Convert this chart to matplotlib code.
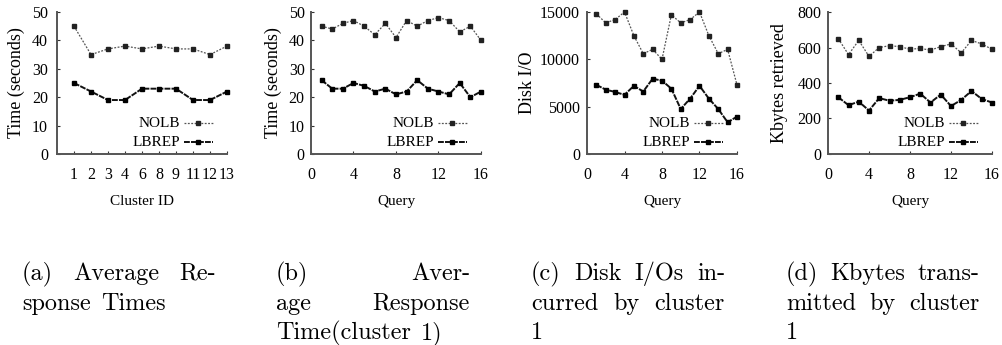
import matplotlib
matplotlib.use('Agg')
import matplotlib.pyplot as plt

# ---------------- data ----------------
series_names = ['NOLB', 'LBREP']

clusters_a = ['1', '2', '3', '4', '6', '8', '9', '11', '12', '13']
nolb_a = [45, 35, 37, 38, 37, 38, 37, 37, 35, 38]
lbrep_a = [25, 22, 19, 19, 23, 23, 23, 19, 19, 22]

queries = list(range(1, 17))
nolb_b = [45, 44, 46, 47, 45, 42, 46, 41, 47, 45, 47, 48, 47, 43, 45, 40]
lbrep_b = [26, 23, 23, 25, 24, 22, 23, 21, 22, 26, 23, 22, 21, 25, 20, 22]

nolb_c = [14800, 13850, 14200, 15000, 12500, 10600, 11050, 10000,
          14700, 13850, 14200, 15000, 12500, 10600, 11050, 7300]
lbrep_c = [7300, 6800, 6550, 6250, 7200, 6600, 7950, 7750,
           6900, 4750, 5850, 7200, 5850, 4750, 3350, 3950]

nolb_d = [650, 560, 640, 550, 600, 610, 605, 590,
          595, 585, 605, 620, 570, 640, 620, 590]
lbrep_d = [320, 275, 295, 245, 315, 300, 305, 320,
           340, 290, 335, 270, 305, 355, 310, 290]

xlabels = ['Cluster ID', 'Query', 'Query', 'Query']
ylabels = ['Time (seconds)', 'Time (seconds)', 'Disk I/O', 'Kbytes retrieved']
query_ticks = [0, 4, 8, 12, 16]
yticks_list = [[0, 10, 20, 30, 40, 50], [0, 10, 20, 30, 40, 50],
               [0, 5000, 10000, 15000], [0, 200, 400, 600, 800]]

captions = [
    [['(a)', 'Average', 'Re-'], ['sponse', 'Times']],
    [['(b)', 'Aver-'], ['age', 'Response'], ['Time(cluster', '1)']],
    [['(c)', 'Disk', 'I/Os', 'in-'], ['curred', 'by', 'cluster'], ['1']],
    [['(d)', 'Kbytes', 'trans-'], ['mitted', 'by', 'cluster'], ['1']],
]

# ---------------- layout ----------------
W, H = 1003, 345
fig = plt.figure(figsize=(W / 100, H / 100), dpi=100)

panel_px = [(57, 227), (311, 481), (587, 737), (828, 992)]  # left, right in px
top_px, bot_px = 12, 154
ylabel_off = [41, 38, 60, 48]
ytick_pad = [6.5, 4.5, 5, 4.5]

serif = ['Liberation Serif', 'DejaVu Serif']
tick_fs = 11.5
lab_fs = 11
ylab_fs = 13
leg_fs = 11

nolb_style = dict(color='#555555', lw=0.9, dashes=(1.5, 1.2), marker='s',
                  ms=2.2, mfc='#222222', mec='#222222')
lbrep_style = dict(color='#111111', lw=1.4, dashes=(3.0, 0.6), marker='s',
                   ms=3.4, mfc='black', mec='black')

data = [
    (list(range(1, len(clusters_a) + 1)), nolb_a, lbrep_a),
    (queries, nolb_b, lbrep_b),
    (queries, nolb_c, lbrep_c),
    (queries, nolb_d, lbrep_d),
]

for i, (xs, s1, s2) in enumerate(data):
    l, r = panel_px[i]
    wpx = r - l
    hpx = bot_px - top_px
    ax = fig.add_axes([l / W, 1 - bot_px / H, wpx / W, hpx / H])
    ax.plot(xs, s1, **nolb_style, clip_on=False)
    ax.plot(xs, s2, **lbrep_style, clip_on=False)

    if i == 0:
        ax.set_xlim(0, len(clusters_a))
        ax.set_xticks(xs)
        ax.set_xticklabels(clusters_a)
    else:
        ax.set_xlim(0, 16)
        ax.set_xticks(query_ticks)
    yt = yticks_list[i]
    ax.set_ylim(yt[0], yt[-1])
    ax.set_yticks(yt)

    for side in ['top', 'right']:
        ax.spines[side].set_visible(False)
    for side in ['left', 'bottom']:
        ax.spines[side].set_color('#555555')
        ax.spines[side].set_linewidth(1.4)
    ax.tick_params(axis='both', direction='in', length=2.5, width=0.8,
                   color='#333333', labelsize=tick_fs)
    ax.tick_params(axis='x', pad=9.5)
    ax.tick_params(axis='y', pad=ytick_pad[i])
    for t in ax.get_xticklabels() + ax.get_yticklabels():
        t.set_fontfamily(serif)

    ax.set_xlabel(xlabels[i], fontsize=lab_fs, fontfamily=serif)
    ax.xaxis.set_label_coords(0.5, -(202 - bot_px) / hpx)
    ax.xaxis.label.set_va('center')
    ax.set_ylabel(ylabels[i], fontsize=ylab_fs, fontfamily=serif)
    ax.yaxis.set_label_coords(-ylabel_off[i] / wpx, 0.5)
    ax.yaxis.label.set_va('center')

    # legend (gnuplot style, text right aligned, sample to the right)
    rows_y = [(bot_px - 123.3) / hpx, (bot_px - 142.3) / hpx]
    styles = [nolb_style, lbrep_style]
    tx = (wpx - 47) / wpx
    s0, s1x = (wpx - 43) / wpx, (wpx - 14) / wpx
    for name, yy, st in zip(series_names, rows_y, styles):
        ax.text(tx, yy, name, transform=ax.transAxes, ha='right', va='center',
                fontsize=leg_fs, fontfamily=serif)
        st2 = dict(st)
        st2.pop('marker')
        ax.plot([s0, s1x], [yy, yy], transform=ax.transAxes, clip_on=False, **st2)
        ax.plot([(s0 + s1x) / 2], [yy], transform=ax.transAxes, clip_on=False,
                marker='s', ms=st['ms'], mfc=st['mfc'], mec=st['mec'], ls='none')

# ---------------- captions (justified, LaTeX-like) ----------------
cap_fs = 17.5
col_left = [22, 276, 531, 786]
col_width = 194
baselines = [280, 310, 339]
space_px = 10

renderer = fig.canvas.get_renderer()
for c, lines in enumerate(captions):
    x0 = col_left[c]
    for li, words in enumerate(lines):
        last = (li == len(lines) - 1)
        y = 1 - baselines[li] / H
        texts = [fig.text(0, y, w, fontfamily='cmr10', fontsize=cap_fs,
                          va='baseline', ha='left') for w in words]
        widths = [t.get_window_extent(renderer).width for t in texts]
        if not last and len(words) > 1:
            gap = (col_width - sum(widths)) / (len(words) - 1)
        else:
            gap = space_px
        x = x0
        for t, wd in zip(texts, widths):
            t.set_x(x / W)
            x += wd + gap

fig.savefig('out.png', dpi=100)
